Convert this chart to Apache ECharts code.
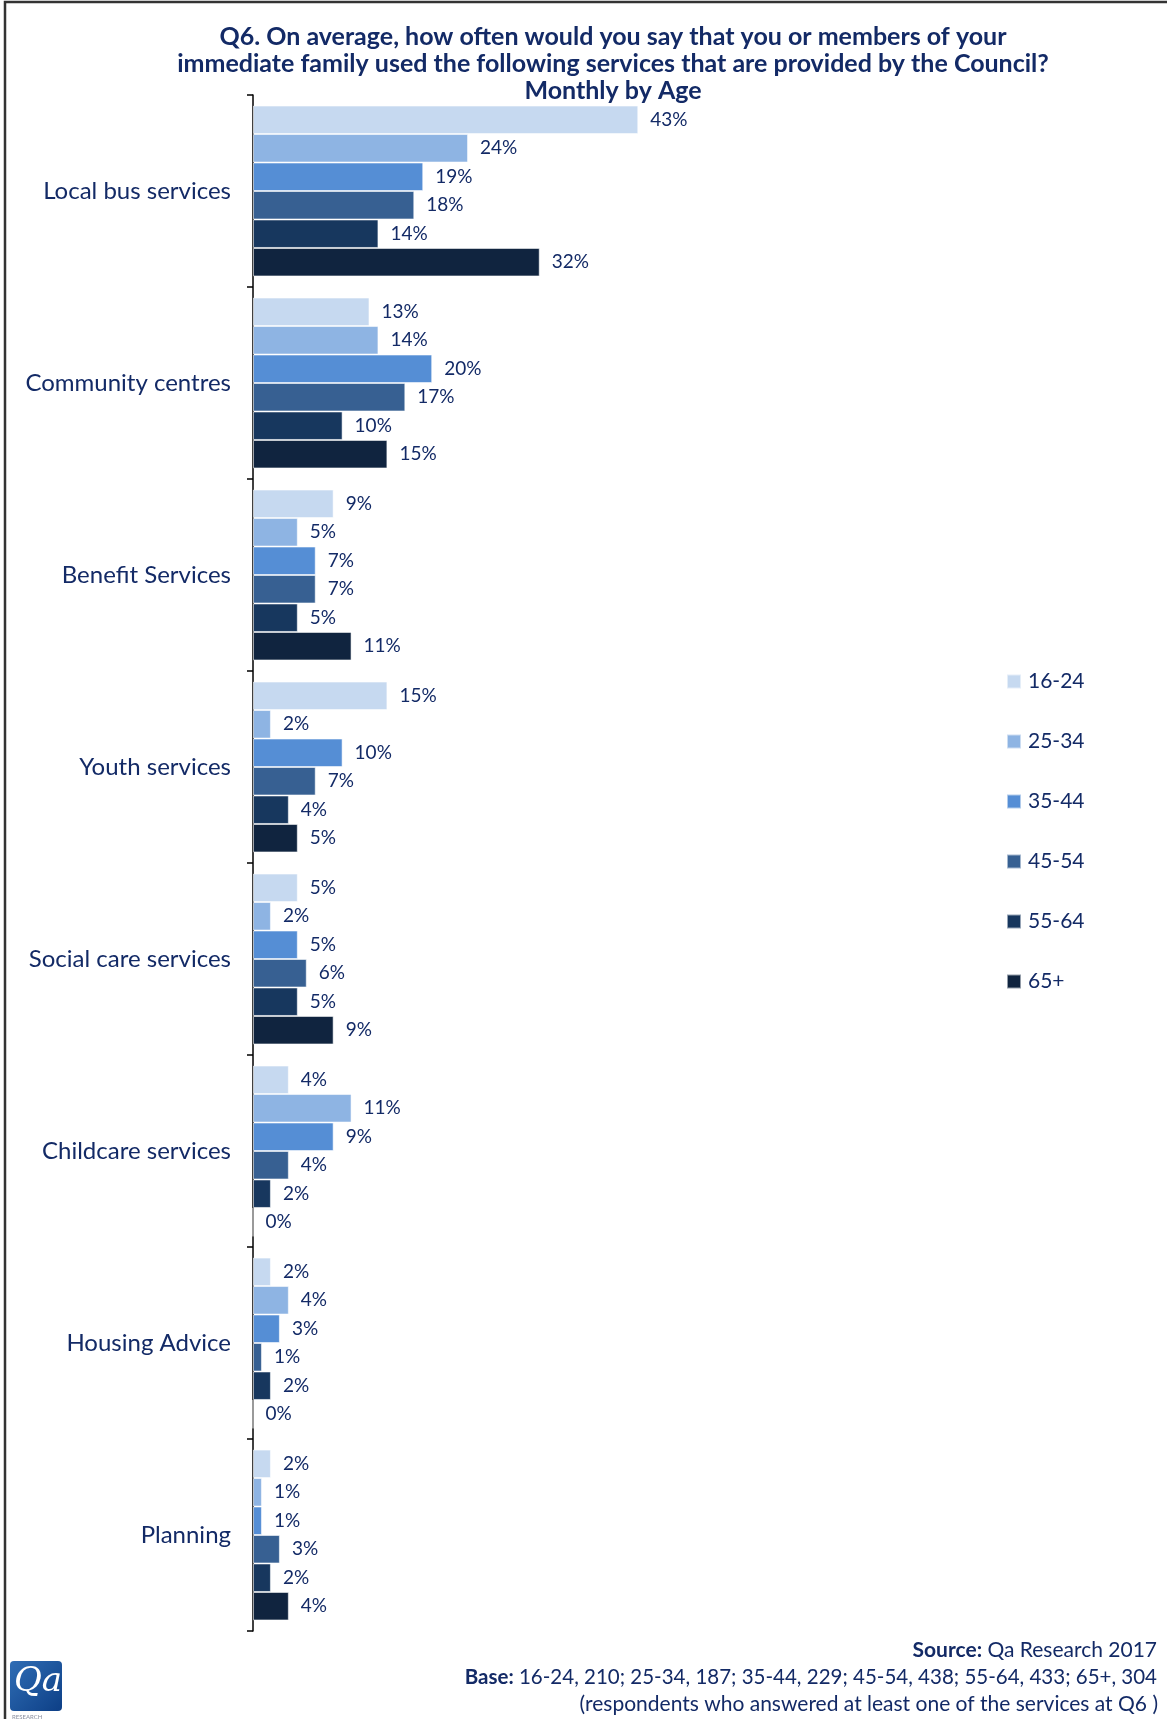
<!DOCTYPE html>
<html>
<head>
<meta charset="utf-8">
<title>Q6 Monthly by Age</title>
<script src="https://cdn.jsdelivr.net/npm/echarts@6/dist/echarts.min.js"></script>
<style>
  html, body { margin: 0; padding: 0; background: #fff; }
  #chart { width: 1167px; height: 1719px; }
</style>
</head>
<body>
<div id="chart"></div>
<script>
// Services (top to bottom)
const categories = [
  'Local bus services', 'Community centres', 'Benefit Services', 'Youth services',
  'Social care services', 'Childcare services', 'Housing Advice', 'Planning'
];
// Age bands
const ageGroups = ['16-24', '25-34', '35-44', '45-54', '55-64', '65+'];
// Monthly usage (%) per age band, in category order
const age16_24 = [43, 13, 9, 15, 5, 4, 2, 2];
const age25_34 = [24, 14, 5, 2, 2, 11, 4, 1];
const age35_44 = [19, 20, 7, 10, 5, 9, 3, 1];
const age45_54 = [18, 17, 7, 7, 6, 4, 1, 3];
const age55_64 = [14, 10, 5, 4, 5, 2, 2, 2];
const age65plus = [32, 15, 11, 5, 9, 0, 0, 4];

const seriesValues = [age16_24, age25_34, age35_44, age45_54, age55_64, age65plus];
const palette = ['#C6D9F0', '#8EB4E3', '#558ED5', '#376092', '#17375E', '#10243F'];
const textColor = '#132a66';
const fontFamily = 'Lato, "Open Sans", sans-serif';

const chart = echarts.init(document.getElementById('chart'), null, { renderer: 'canvas' });

chart.setOption({
  backgroundColor: '#ffffff',
  animation: false,
  textStyle: { fontFamily: fontFamily, color: textColor },
  title: {
    text: 'Q6. On average, how often would you say that you or members of your\nimmediate family used the following services that are provided by the Council?\nMonthly by Age',
    left: 608,
    top: 18,
    textAlign: 'center',
    textStyle: {
      fontFamily: fontFamily,
      fontSize: 25,
      fontWeight: 'bold',
      color: textColor,
      lineHeight: 27
    }
  },
  legend: {
    orient: 'vertical',
    left: 1001,
    top: 666,
    icon: 'rect',
    itemWidth: 14,
    itemHeight: 14,
    itemGap: 39,
    data: ageGroups,
    textStyle: { fontFamily: fontFamily, fontSize: 21, color: textColor, padding: [0, 0, 0, 2] }
  },
  grid: {
    left: 253,
    top: 95,
    width: 448,
    height: 1536,
    containLabel: false
  },
  xAxis: {
    type: 'value',
    min: 0,
    max: 50,
    show: false
  },
  yAxis: {
    type: 'category',
    data: categories,
    inverse: true,
    axisLine: { show: true, lineStyle: { color: '#000', width: 1.5 } },
    axisTick: { show: true, length: 6, lineStyle: { color: '#000', width: 1.5 } },
    axisLabel: {
      fontFamily: fontFamily,
      fontSize: 24,
      color: textColor,
      margin: 22
    }
  },
  series: ageGroups.map((name, i) => ({
    name: name,
    type: 'bar',
    data: seriesValues[i],
    barGap: '0%',
    barCategoryGap: '11%',
    itemStyle: {
      color: palette[i],
      borderColor: 'rgba(255,255,255,0.55)',
      borderWidth: 1
    },
    label: {
      show: true,
      position: 'right',
      distance: 12,
      formatter: '{c}%',
      fontFamily: fontFamily,
      fontSize: 19,
      color: textColor
    }
  })),
  graphic: [
    // outer frame (left and top edges)
    {
      type: 'rect',
      shape: { x: 5, y: 2, width: 1400, height: 2000 },
      style: { fill: 'none', stroke: '#333', lineWidth: 2.5 },
      silent: true
    },
    // footer text
    {
      type: 'text',
      right: 10,
      top: 1640,
      style: {
        text: '{b|Source:} Qa Research 2017',
        rich: { b: { fontWeight: 'bold', fontSize: 21, fontFamily: fontFamily, fill: textColor } },
        font: '21px ' + fontFamily,
        fill: textColor
      }
    },
    {
      type: 'text',
      right: 10,
      top: 1667,
      style: {
        text: '{b|Base:} 16-24, 210; 25-34, 187; 35-44, 229; 45-54, 438; 55-64, 433; 65+, 304',
        rich: { b: { fontWeight: 'bold', fontSize: 20.5, fontFamily: fontFamily, fill: textColor } },
        font: '20.5px ' + fontFamily,
        fill: textColor
      }
    },
    {
      type: 'text',
      right: 9,
      top: 1694,
      style: {
        text: '(respondents who answered at least one of the services at Q6 )',
        font: '21px ' + fontFamily,
        fill: textColor
      }
    },
    // Qa logo
    {
      type: 'group',
      left: 10,
      top: 1661,
      children: [
        {
          type: 'rect',
          shape: { x: 0, y: 0, width: 52, height: 50, r: 4 },
          style: {
            fill: new echarts.graphic.LinearGradient(0, 0, 1, 1, [
              { offset: 0, color: '#2f6db5' },
              { offset: 1, color: '#0d3f86' }
            ])
          }
        },
        {
          type: 'text',
          x: 4,
          y: 4,
          style: {
            text: 'Qa',
            font: 'italic 34px "DejaVu Serif", serif',
            fill: '#ffffff'
          }
        },
        {
          type: 'text',
          x: 2,
          y: 53,
          style: {
            text: 'RESEARCH',
            font: '6px ' + fontFamily,
            fill: '#8a8fa0'
          }
        }
      ]
    }
  ]
});
</script>
</body>
</html>
